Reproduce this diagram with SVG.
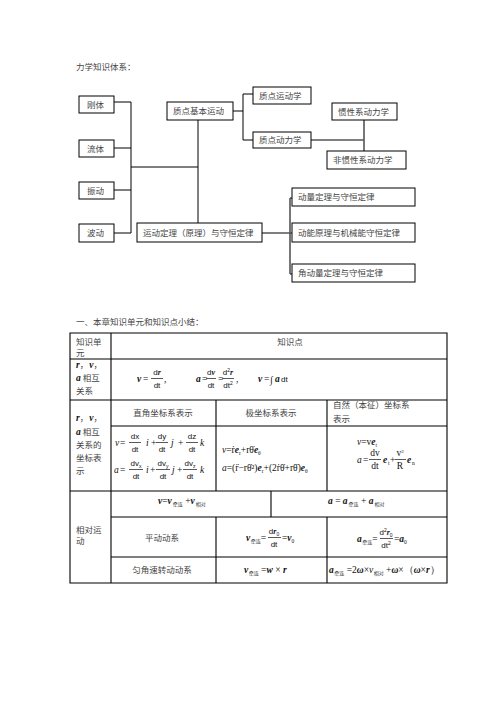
<svg xmlns="http://www.w3.org/2000/svg" width="496" height="702" viewBox="0 0 496 702">
<style>
.bx{fill:#fff;stroke:#000;stroke-width:1}
.t{font-family:"Noto Sans CJK SC",sans-serif;font-size:8.5px;fill:#444}
.c{stroke:#000;stroke-width:1;fill:none}
.g{stroke:#555;stroke-width:1.6;fill:none}
.tl{stroke:#000;stroke-width:1.1;fill:none}
.m{font-family:"Liberation Serif",serif;font-size:9.5px;fill:#111}
.sf{font-family:"Liberation Sans",sans-serif;font-size:8px;fill:#111}
.bi{font-weight:bold;font-style:italic}
.i{font-style:italic}
.s{font-family:"Noto Sans CJK SC",sans-serif;font-size:5px;fill:#333}
.ss{font-family:"Liberation Serif",serif;font-size:5.5px;fill:#111}
.fl{stroke:#111;stroke-width:0.7}
.mid{text-anchor:middle}
</style>
<rect width="496" height="702" fill="#fff"/>
<text class="t" x="76" y="70">力学知识体系：</text>

<g id="connectors">
<path class="c" d="M114,102H131M114,148H131M114,190H131M114,233H131M131,102V233M131,167H198M198,120V223"/>
<path class="c" d="M233,111H243M243,94V140M243,94H253M243,140H253"/>
<path class="c" d="M311,140H364"/>
<path class="g" d="M364,120V151"/>
<path class="c" d="M262,233H292"/>
<path class="g" d="M290,198V274M290,198H292M290,274H292"/>
</g>

<g id="n-gangti"><rect class="bx" x="79" y="96" width="35" height="17"/><text class="t" x="87" y="107.5">刚体</text></g>
<g id="n-liuti"><rect class="bx" x="79" y="140" width="35" height="17"/><text class="t" x="87" y="151.5">流体</text></g>
<g id="n-zhendong"><rect class="bx" x="79" y="182" width="35" height="17"/><text class="t" x="87" y="193.5">振动</text></g>
<g id="n-bodong"><rect class="bx" x="79" y="224" width="35" height="18"/><text class="t" x="87" y="236">波动</text></g>
<g id="n-zhidianjiben"><rect class="bx" x="167" y="102" width="66" height="18"/><text class="t" x="173" y="114">质点基本运动</text></g>
<g id="n-yundongdingli"><rect class="bx" x="137" y="223" width="125" height="19"/><text class="t" x="143" y="235.5">运动定理（原理）与守恒定律</text></g>
<g id="n-yundongxue"><rect class="bx" x="253" y="87" width="58" height="17"/><text class="t" x="259" y="98.5">质点运动学</text></g>
<g id="n-donglixue"><rect class="bx" x="253" y="132" width="58" height="16"/><text class="t" x="259" y="143">质点动力学</text></g>
<g id="n-guanxing"><rect class="bx" x="332" y="103" width="65" height="17"/><text class="t" x="338" y="114.5">惯性系动力学</text></g>
<g id="n-feiguanxing"><rect class="bx" x="327" y="151" width="79" height="18"/><text class="t" x="333" y="163">非惯性系动力学</text></g>
<g id="n-dongliang"><rect class="bx" x="292" y="188" width="123" height="18"/><text class="t" x="298" y="200">动量定理与守恒定律</text></g>
<g id="n-dongneng"><rect class="bx" x="292" y="223" width="123" height="19"/><text class="t" x="298" y="235.5">动能原理与机械能守恒定律</text></g>
<g id="n-jiaodongliang"><rect class="bx" x="292" y="264" width="123" height="18"/><text class="t" x="298" y="276">角动量定理与守恒定律</text></g>

<text class="t" x="76" y="325">一、本章知识单元和知识点小结：</text>

<g id="table">
<path class="tl" d="M70,333H447V583H70ZM70,359H447M70,400H447M70,491H447M111,333V583"/>
<path class="tl" d="M111,426H447M216,400V491M327,400V491M111,517H447M111,557H447M271,491V517M216,517V583M327,517V583"/>
</g>

<g id="row-header">
<text class="t" x="76" y="345">知识单</text>
<text class="t" x="76" y="356">元</text>
<text class="t mid" x="290" y="345">知识点</text>
</g>

<g id="row-rva">
<text class="m" x="76" y="368"><tspan class="bi">r</tspan><tspan class="t">，</tspan><tspan class="bi" dx="1">v</tspan><tspan class="t">，</tspan></text>
<text class="m" x="76" y="381"><tspan class="bi">a</tspan><tspan class="t"> 相互</tspan></text>
<text class="t" x="76" y="394">关系</text>
<text class="m bi" x="137" y="382">v</text>
<text class="m" x="143" y="382">=</text>
<text class="sf mid" x="157" y="375">d<tspan class="bi" font-family="Liberation Serif">r</tspan></text>
<line class="fl" x1="151" y1="378.5" x2="163" y2="378.5"/>
<text class="sf mid" x="157" y="388">dt</text>
<text class="m" x="164" y="382">,</text>
<text class="m bi" x="196" y="382">a</text>
<text class="m" x="202" y="382">=</text>
<text class="sf mid" x="211" y="375">d<tspan class="bi" font-family="Liberation Serif">v</tspan></text>
<line class="fl" x1="206" y1="378.5" x2="216" y2="378.5"/>
<text class="sf mid" x="211" y="388">dt</text>
<text class="m" x="218" y="382">=</text>
<text class="sf mid" x="228" y="375">d<tspan font-size="5" dy="-3">2</tspan><tspan class="bi" font-family="Liberation Serif" dy="3">r</tspan></text>
<line class="fl" x1="222" y1="378.5" x2="234" y2="378.5"/>
<text class="sf mid" x="228" y="388">dt<tspan font-size="5" dy="-3">2</tspan></text>
<text class="m" x="236" y="382">,</text>
<text class="m bi" x="258" y="382">v</text>
<text class="m" x="264" y="382">=</text>
<text class="m" x="270" y="383" font-size="12">∫</text>
<text class="m bi" x="275" y="382">a</text>
<text class="sf" x="281" y="382">dt</text>
</g>

<g id="row-coords">
<text class="m" x="76" y="421"><tspan class="bi">r</tspan><tspan class="t">，</tspan><tspan class="bi" dx="1">v</tspan><tspan class="t">，</tspan></text>
<text class="m" x="76" y="435"><tspan class="bi">a</tspan><tspan class="t"> 相互</tspan></text>
<text class="t" x="76" y="448">关系的</text>
<text class="t" x="76" y="461">坐标表</text>
<text class="t" x="76" y="474">示</text>
<text class="t mid" x="163" y="416">直角坐标系表示</text>
<text class="t mid" x="271" y="416">极坐标系表示</text>
<text class="t" x="333" y="407.5">自然（本征）坐标系</text>
<text class="t" x="333" y="421.5">表示</text>

<text class="m i" x="115" y="446">v</text><text class="m" x="120" y="446">=</text>
<text class="sf mid" x="135" y="439">dx</text><line class="fl" x1="129" y1="442.5" x2="141" y2="442.5"/><text class="sf mid" x="135" y="452">dt</text>
<text class="m i" x="146" y="446">i</text><text class="m" x="151" y="446">+</text>
<text class="sf mid" x="162" y="439">dy</text><line class="fl" x1="156" y1="442.5" x2="168" y2="442.5"/><text class="sf mid" x="162" y="452">dt</text>
<text class="m i" x="171" y="446">j</text><text class="m" x="178" y="446">+</text>
<text class="sf mid" x="192" y="439">dz</text><line class="fl" x1="186" y1="442.5" x2="198" y2="442.5"/><text class="sf mid" x="192" y="452">dt</text>
<text class="m i" x="200" y="446">k</text>

<text class="m i" x="114" y="473">a</text><text class="m" x="120" y="473">=</text>
<text class="sf mid" x="136" y="466">dv<tspan font-size="5" dy="1.5">x</tspan></text><line class="fl" x1="129" y1="469.5" x2="143" y2="469.5"/><text class="sf mid" x="136" y="479">dt</text>
<text class="m i" x="146" y="473">i</text><text class="m" x="150" y="473">+</text>
<text class="sf mid" x="163" y="466">dv<tspan font-size="5" dy="1.5">y</tspan></text><line class="fl" x1="156" y1="469.5" x2="170" y2="469.5"/><text class="sf mid" x="163" y="479">dt</text>
<text class="m i" x="172" y="473">j</text><text class="m" x="177" y="473">+</text>
<text class="sf mid" x="190" y="466">dv<tspan font-size="5" dy="1.5">z</tspan></text><line class="fl" x1="183" y1="469.5" x2="197" y2="469.5"/><text class="sf mid" x="190" y="479">dt</text>
<text class="m i" x="200" y="473">k</text>

<text class="m" x="222" y="453"><tspan class="i">v</tspan>=ṙ<tspan class="bi">e</tspan><tspan class="ss" dy="2">r</tspan><tspan dy="-2">+rθ̇</tspan><tspan class="bi">e</tspan><tspan class="ss" dy="2">θ</tspan></text>
<text class="m" x="222" y="471"><tspan class="i">a</tspan>=(r̈−rθ̇²)<tspan class="bi">e</tspan><tspan class="ss" dy="2">r</tspan><tspan dy="-2">+(2ṙθ̇+rθ̈)</tspan><tspan class="bi">e</tspan><tspan class="ss" dy="2">θ</tspan></text>

<text class="m" x="357" y="445"><tspan class="i">v</tspan>=v<tspan class="bi">e</tspan><tspan class="ss" dy="2">t</tspan></text>
<text class="m i" x="357" y="463">a</text><text class="m" x="363" y="463">=</text>
<text class="m mid" x="375" y="456">dv</text><line class="fl" x1="369" y1="459.5" x2="381" y2="459.5"/><text class="m mid" x="375" y="469">dt</text>
<text class="m bi" x="383" y="463">e</text><text class="ss" x="388" y="465">t</text>
<text class="m" x="390" y="463">+</text>
<text class="m mid" x="400" y="456">v<tspan font-size="5" dy="-3">2</tspan></text><line class="fl" x1="395" y1="459.5" x2="406" y2="459.5"/><text class="m mid" x="400" y="469">R</text>
<text class="m bi" x="407" y="463">e</text><text class="ss" x="412" y="465">n</text>
</g>

<g id="row-relative">
<text class="t" x="76" y="533">相对运</text>
<text class="t" x="76" y="544">动</text>

<text class="m" x="158" y="504"><tspan class="bi">v</tspan>=<tspan class="bi">v</tspan><tspan class="s" dx="1" dy="2">牵连</tspan><tspan dy="-2"> +</tspan><tspan class="bi">v</tspan><tspan class="s" dx="1" dy="2">相对</tspan></text>
<text class="m" x="328" y="504"><tspan class="bi">a</tspan> = <tspan class="bi">a</tspan><tspan class="s" dx="1" dy="2">牵连</tspan><tspan dy="-2"> + </tspan><tspan class="bi">a</tspan><tspan class="s" dx="1" dy="2">相对</tspan></text>

<text class="t mid" x="162" y="541">平动动系</text>
<text class="m" x="246" y="541"><tspan class="bi">v</tspan><tspan class="s" dx="0.5" dy="2">牵连</tspan><tspan dy="-2">=</tspan></text>
<text class="sf mid" x="274" y="534">d<tspan class="bi" font-family="Liberation Serif">r</tspan><tspan font-size="5" dy="1.5">0</tspan></text>
<line class="fl" x1="268" y1="537.5" x2="281" y2="537.5"/>
<text class="sf mid" x="274" y="547">dt</text>
<text class="m" x="282" y="541">=<tspan class="bi">v</tspan><tspan class="ss" dy="2">0</tspan></text>

<text class="m" x="357" y="542"><tspan class="bi">a</tspan><tspan class="s" dx="0.5" dy="2">牵连</tspan><tspan dy="-2">=</tspan></text>
<text class="sf mid" x="386" y="535">d<tspan font-size="5" dy="-3">2</tspan><tspan class="bi" font-family="Liberation Serif" dy="3">r</tspan><tspan font-size="5" dy="1.5">0</tspan></text>
<line class="fl" x1="380" y1="538.5" x2="393" y2="538.5"/>
<text class="sf mid" x="386" y="548">dt<tspan font-size="5" dy="-3">2</tspan></text>
<text class="m" x="394" y="542">=<tspan class="bi">a</tspan><tspan class="ss" dy="2">0</tspan></text>

<text class="t mid" x="162" y="573">匀角速转动动系</text>
<text class="m" x="244" y="573"><tspan class="bi">v</tspan><tspan class="s" dx="0.5" dy="2">牵连</tspan><tspan dy="-2"> =</tspan><tspan class="bi">w</tspan> × <tspan class="bi">r</tspan></text>
<text class="m" x="329" y="573"><tspan class="bi">a</tspan><tspan class="s" dx="0.5" dy="2">牵连</tspan><tspan dy="-2"> =2</tspan><tspan class="bi">ω</tspan>×<tspan class="i">v</tspan><tspan class="s" dx="0.5" dy="2">相对</tspan><tspan dy="-2"> +</tspan><tspan class="bi">ω</tspan>×（<tspan class="bi">ω</tspan>×<tspan class="bi">r</tspan>）</text>
</g>
</svg>
